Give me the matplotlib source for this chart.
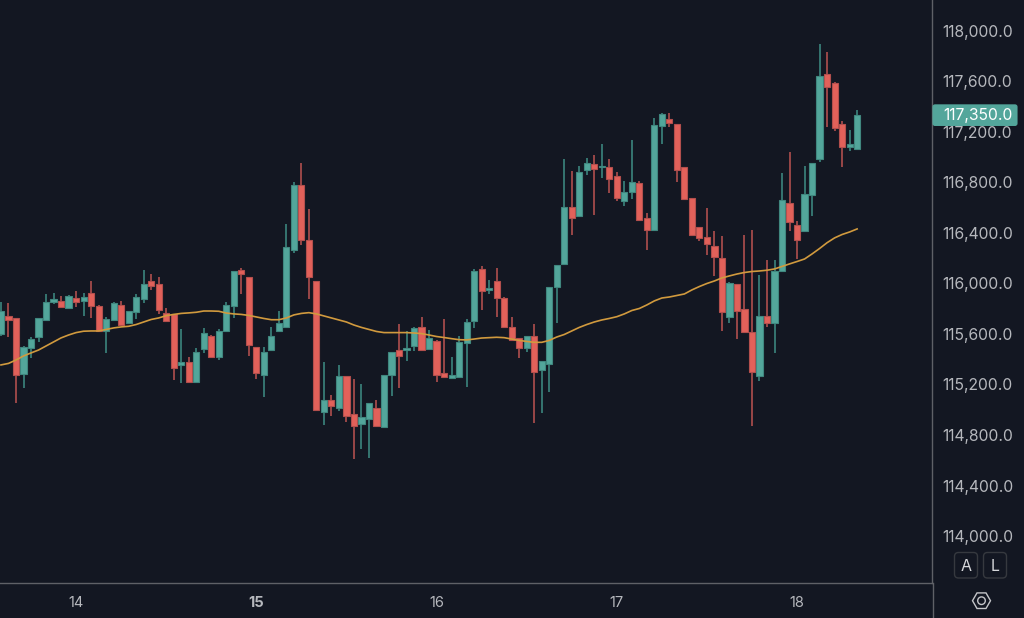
import matplotlib
matplotlib.use("Agg")
import matplotlib.pyplot as plt
from matplotlib.patches import FancyBboxPatch, RegularPolygon, Circle
import numpy as np

plt.rcParams['font.family'] = ['Inter', 'DejaVu Sans']

# hourly candles
opens = [115603, 115745, 115725, 115286, 115492, 115574, 115713, 115851, 115864, 115804,
         115888, 115862, 115927, 115824, 115624, 115713, 115828, 115685, 115777, 115875,
         116018, 115999, 115769, 115756, 115355, 115378, 115222, 115484, 115587, 115416,
         115622, 115822, 116105, 116049, 115497, 115273, 115474, 115622, 115656, 116266,
         116783, 116342, 116018, 114985, 115078, 115017, 115265, 114967, 114885, 114925,
         115017, 114866, 115273, 115476, 115476, 115503, 115658, 115481, 115547, 115289,
         115254, 115262, 115527, 115703, 116117, 115951, 116018, 115888, 115658, 115566,
         115492, 115587, 115315, 115365, 115972, 116152, 116606, 116532, 116899, 116947,
         116920, 116920, 116854, 116654, 116725, 116794, 116517, 116421, 117250, 117305,
         117263, 116923, 116675, 116445, 116366, 116295, 116205, 115733, 115999, 115796,
         115614, 115265, 115743, 115685, 116102, 116635, 116466, 116414, 116704, 116984,
         117657, 117586, 117263, 117084, 117063]
highs = [115856, 115843, 115725, 115505, 115574, 115727, 115917, 115927, 115899, 115907,
         115938, 115927, 116018, 115828, 115735, 115854, 115864, 115785, 115917, 116107,
         116075, 116049, 115806, 115756, 115637, 115420, 115487, 115648, 115590, 115637,
         115856, 116097, 116123, 116049, 115497, 115497, 115658, 115780, 116469, 116802,
         116957, 116588, 116018, 115376, 115115, 115357, 115265, 115246, 115202, 115051,
         115078, 115275, 115458, 115680, 115624, 115658, 115735, 115634, 115550, 115717,
         115418, 115587, 115717, 116117, 116136, 116028, 116121, 115891, 115735, 115566,
         115587, 115677, 115384, 115975, 116147, 116986, 116894, 116933, 116994, 117018,
         117105, 116986, 116883, 116812, 117134, 116812, 116556, 117309, 117348, 117348,
         117263, 116923, 116675, 116445, 116598, 116416, 116376, 116012, 115999, 116387,
         116424, 116065, 116186, 116186, 116875, 117044, 116498, 116933, 116957, 117897,
         117834, 117598, 117285, 117216, 117374]
lows = [115584, 115579, 115051, 115170, 115412, 115539, 115713, 115838, 115808, 115801,
        115816, 115745, 115727, 115618, 115450, 115706, 115669, 115680, 115719, 115848,
        115946, 115761, 115703, 115236, 115210, 115222, 115220, 115452, 115412, 115394,
        115618, 115729, 115919, 115428, 115246, 115099, 115474, 115622, 115650, 116239,
        116305, 115880, 114990, 114880, 114953, 114990, 114906, 114613, 114687, 114620,
        114869, 114866, 115109, 115173, 115389, 115468, 115468, 115481, 115220, 115262,
        115254, 115262, 115183, 115650, 115790, 115917, 115735, 115656, 115555, 115410,
        115458, 114898, 114977, 115139, 115690, 116152, 116387, 116529, 116857, 116545,
        116838, 116719, 116656, 116616, 116673, 116498, 116268, 116421, 117107, 117237,
        116806, 116661, 116379, 116334, 116226, 116060, 115626, 115690, 115561, 115614,
        114872, 115230, 115658, 115450, 116102, 116416, 116197, 116414, 116537, 116965,
        117237, 117210, 116925, 117052, 117055]
closes = [115780, 115713, 115273, 115497, 115561, 115725, 115854, 115877, 115814, 115899,
          115851, 115891, 115824, 115624, 115717, 115846, 115674, 115780, 115891, 115999,
          115980, 115793, 115706, 115333, 115378, 115222, 115458, 115606, 115416, 115626,
          115828, 116097, 116073, 115513, 115289, 115458, 115587, 115687, 116287, 116783,
          116342, 116054, 114996, 115078, 115032, 115265, 114948, 114874, 114941, 115051,
          114874, 115275, 115458, 115428, 115487, 115650, 115471, 115569, 115273, 115262,
          115273, 115539, 115698, 116097, 115941, 115962, 115885, 115656, 115555, 115492,
          115587, 115297, 115384, 115975, 116147, 116606, 116521, 116883, 116957, 116909,
          116931, 116825, 116680, 116727, 116802, 116503, 116424, 117253, 117345, 117269,
          116901, 116672, 116382, 116363, 116313, 116212, 115777, 116002, 115785, 115614,
          115297, 115743, 115687, 116102, 116664, 116485, 116342, 116707, 116957, 117644,
          117559, 117232, 117084, 117105, 117335]
moving_avg = [115355, 115367, 115394, 115426, 115450, 115473, 115505, 115537, 115569, 115592,
              115611, 115622, 115624, 115624, 115636, 115648, 115656, 115661, 115675, 115695,
              115715, 115727, 115745, 115755, 115763, 115767, 115772, 115782, 115782, 115780,
              115766, 115759, 115755, 115747, 115735, 115723, 115713, 115713, 115727, 115751,
              115763, 115769, 115759, 115743, 115727, 115711, 115695, 115671, 115652, 115636,
              115620, 115611, 115611, 115611, 115611, 115608, 115603, 115592, 115580, 115572,
              115563, 115555, 115553, 115560, 115568, 115571, 115574, 115571, 115560, 115549,
              115541, 115534, 115534, 115549, 115576, 115596, 115624, 115652, 115675, 115695,
              115711, 115723, 115737, 115759, 115786, 115802, 115830, 115862, 115885, 115893,
              115905, 115917, 115949, 115976, 116000, 116020, 116044, 116060, 116075, 116087,
              116095, 116099, 116105, 116115, 116135, 116155, 116174, 116194, 116234, 116277,
              116323, 116361, 116388, 116408, 116432]

price_ticks = [114000, 114400, 114800, 115200, 115600, 116000, 116400, 116800, 117200, 117600, 118000]
day_ticks = [10, 34, 58, 82, 106]
day_labels = ["14", "15", "16", "17", "18"]
last_price = 117350.0

BG = '#131722'
GREEN = '#53a69b'
RED = '#e2615a'
GREEN_EDGE = '#40877f'
RED_EDGE = '#b34f4d'
GREEN_WICK = '#3f8f86'
RED_WICK = '#bd5452'
GRID = '#5f6167'
TEXT = '#b6b8bd'

fig = plt.figure(figsize=(10.24, 6.18), dpi=100, facecolor=BG)
ax = fig.add_axes([0, 35 / 618, 932 / 1024, 583 / 618], facecolor=BG)

# candles
x = np.arange(len(opens))
up = np.array(closes) >= np.array(opens)
ax.vlines(x, lows, highs, colors=[GREEN_WICK if u else RED_WICK for u in up], linewidth=1.1, zorder=2)
ax.bar(x, np.abs(np.array(closes) - np.array(opens)), bottom=np.minimum(opens, closes), width=0.82,
       color=[GREEN if u else RED for u in up],
       edgecolor=[GREEN_EDGE if u else RED_EDGE for u in up], linewidth=0.8, zorder=3)

# moving average
ax.plot(x, moving_avg, color='#d19a3e', linewidth=1.2, zorder=4)

ax.set_xlim(-0.13, 123.97)
ax.set_ylim(113628, 118245)

ax.yaxis.tick_right()
ax.set_yticks(price_ticks)
ax.set_yticklabels([f"{p:,.1f}" for p in price_ticks], fontsize=11.3, color=TEXT)
ax.tick_params(axis='y', length=0, pad=7.5)
ax.set_xticks(day_ticks)
ax.set_xticklabels(day_labels, fontsize=10.5, color=TEXT)
ax.get_xticklabels()[1].set_fontweight('bold')
ax.tick_params(axis='x', length=0, pad=9.5)

for side in ['top', 'left']:
    ax.spines[side].set_visible(False)
for side in ['right', 'bottom']:
    ax.spines[side].set_color(GRID)
    ax.spines[side].set_linewidth(1.0)

# overlay in pixel coordinates for the price tag and the little buttons
ov = fig.add_axes([0, 0, 1, 1], facecolor='none')
ov.set_xlim(0, 1024)
ov.set_ylim(618, 0)
ov.axis('off')

ov.plot([932.5, 932.5], [583, 618], color=GRID, linewidth=1.0)

tag_y = 618 - ax.transData.transform((0, closes[-1]))[1]
ov.add_patch(FancyBboxPatch((933, tag_y - 10), 84, 20.5, boxstyle="round,pad=0,rounding_size=2",
                            facecolor=GREEN, edgecolor=GREEN, linewidth=0.8))
ov.text(978, tag_y + 0.5, f"{last_price:,.1f}", color='white', fontsize=11.3, ha='center', va='center')

for left, letter in [(954.5, "A"), (983.5, "L")]:
    ov.add_patch(FancyBboxPatch((left, 552.5), 23, 25.5, boxstyle="round,pad=0,rounding_size=4",
                                facecolor=BG, edgecolor='#36393f', linewidth=1.0))
    ov.text(left + 11.5, 566.7, letter, color='#d6d7da', fontsize=11.5, ha='center', va='center')

ov.add_patch(RegularPolygon((981.5, 600.7), 6, radius=9, orientation=np.pi / 6,
                            facecolor='none', edgecolor='#c4c5c9', linewidth=1.0))
ov.add_patch(Circle((981.5, 600.7), 3.8, facecolor='none', edgecolor='#c4c5c9', linewidth=1.0))

fig.savefig("out.png", dpi=100, facecolor=BG)
